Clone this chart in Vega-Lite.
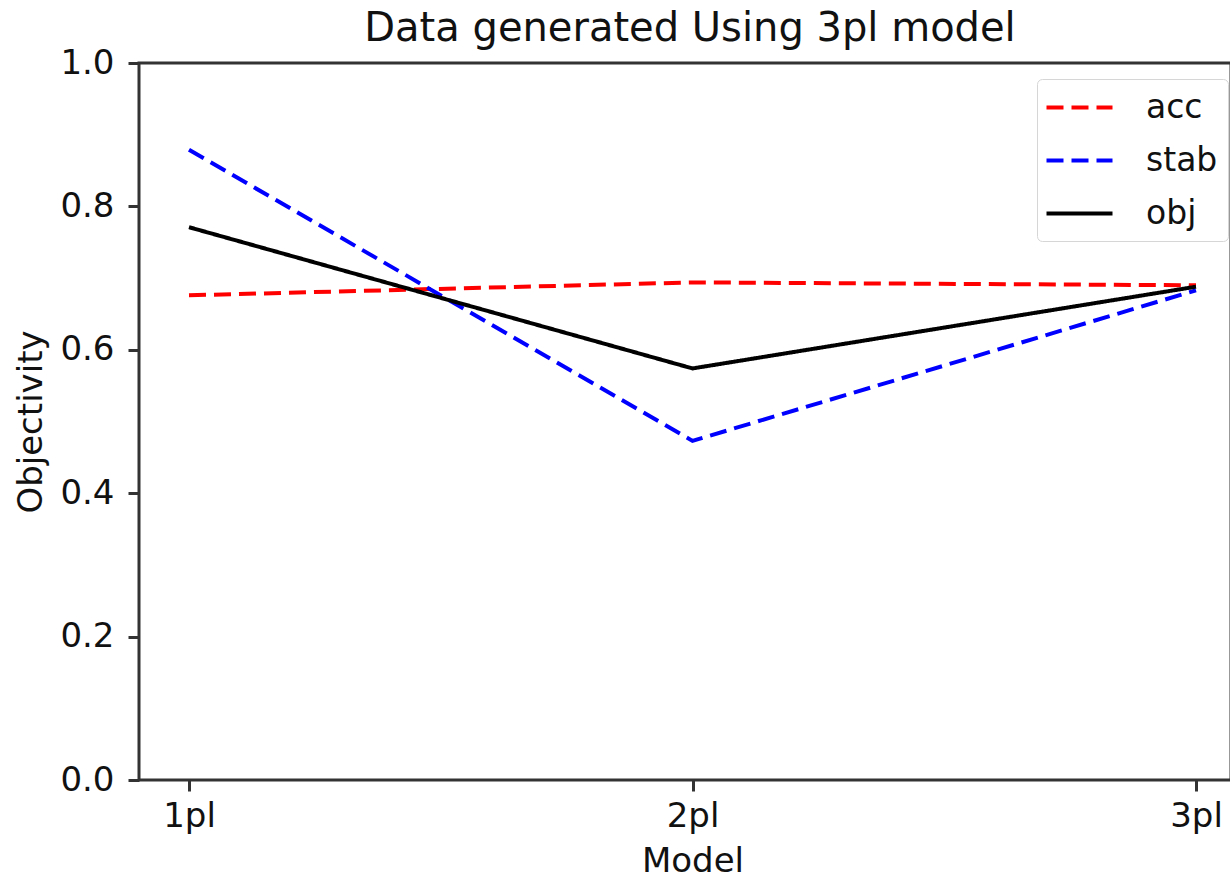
{
  "$schema": "https://vega.github.io/schema/vega-lite/v6.json",
  "width": 1092,
  "height": 717,
  "autosize": {"type": "none"},
  "padding": {"left": 139, "top": 63, "right": 0, "bottom": 98},
  "background": "white",
  "title": {
    "text": "Data generated Using 3pl model",
    "font": "DejaVu Sans",
    "fontSize": 40,
    "fontWeight": "normal",
    "color": "#111111",
    "anchor": "middle",
    "frame": "group",
    "baseline": "bottom",
    "offset": -43,
    "dx": 5
  },
  "config": {
    "view": {"stroke": "#333333", "strokeWidth": 3},
    "font": "DejaVu Sans",
    "legend": {
      "title": null,
      "orient": "none",
      "legendX": 898,
      "legendY": 16,
      "padding": 10,
      "strokeColor": "#d6d6d6",
      "cornerRadius": 5,
      "fillColor": "white",
      "symbolType": "M -2 0 L 2 0",
      "symbolSize": 1089,
      "symbolStrokeWidth": 4,
      "symbolOffset": 14,
      "labelFont": "DejaVu Sans",
      "labelFontSize": 33,
      "labelColor": "#111111",
      "labelOffset": 48,
      "rowPadding": 17
    }
  },
  "data": {
    "values": [
      {"model": "1pl", "series": "acc", "value": 0.676},
      {"model": "2pl", "series": "acc", "value": 0.694},
      {"model": "3pl", "series": "acc", "value": 0.690},
      {"model": "1pl", "series": "stab", "value": 0.879},
      {"model": "2pl", "series": "stab", "value": 0.473},
      {"model": "3pl", "series": "stab", "value": 0.683},
      {"model": "1pl", "series": "obj", "value": 0.771},
      {"model": "2pl", "series": "obj", "value": 0.574},
      {"model": "3pl", "series": "obj", "value": 0.688}
    ]
  },
  "mark": {"type": "line", "strokeWidth": 4},
  "encoding": {
    "x": {
      "field": "model",
      "type": "ordinal",
      "scale": {"type": "point", "range": [50, 1057], "padding": 0},
      "axis": {
        "title": "Model",
        "labelAngle": 0,
        "labelFont": "DejaVu Sans",
        "labelFontSize": 34,
        "labelColor": "#111111",
        "labelPadding": 8,
        "tickSize": 11,
        "tickWidth": 3,
        "tickColor": "#333333",
        "domain": false,
        "grid": false,
        "titleFont": "DejaVu Sans",
        "titleFontSize": 34,
        "titleFontWeight": "normal",
        "titleColor": "#111111",
        "titleBaseline": "alphabetic",
        "titlePadding": 38
      }
    },
    "y": {
      "field": "value",
      "type": "quantitative",
      "scale": {"domain": [0, 1], "nice": false, "zero": false},
      "axis": {
        "title": "Objectivity",
        "values": [0, 0.2, 0.4, 0.6, 0.8, 1.0],
        "format": ".1f",
        "labelFont": "DejaVu Sans",
        "labelFontSize": 34,
        "labelColor": "#111111",
        "labelPadding": 14,
        "tickSize": 11,
        "tickWidth": 3,
        "tickColor": "#333333",
        "domain": false,
        "grid": false,
        "titleFont": "DejaVu Sans",
        "titleFontSize": 34,
        "titleFontWeight": "normal",
        "titleColor": "#111111",
        "titleBaseline": "alphabetic",
        "titlePadding": 18
      }
    },
    "color": {
      "field": "series",
      "type": "nominal",
      "scale": {"domain": ["acc", "stab", "obj"], "range": ["#ff0000", "#0000ff", "#000000"]}
    },
    "strokeDash": {
      "field": "series",
      "type": "nominal",
      "scale": {"domain": ["acc", "stab", "obj"], "range": [[17, 8], [17, 8], [1, 0]]}
    }
  }
}
